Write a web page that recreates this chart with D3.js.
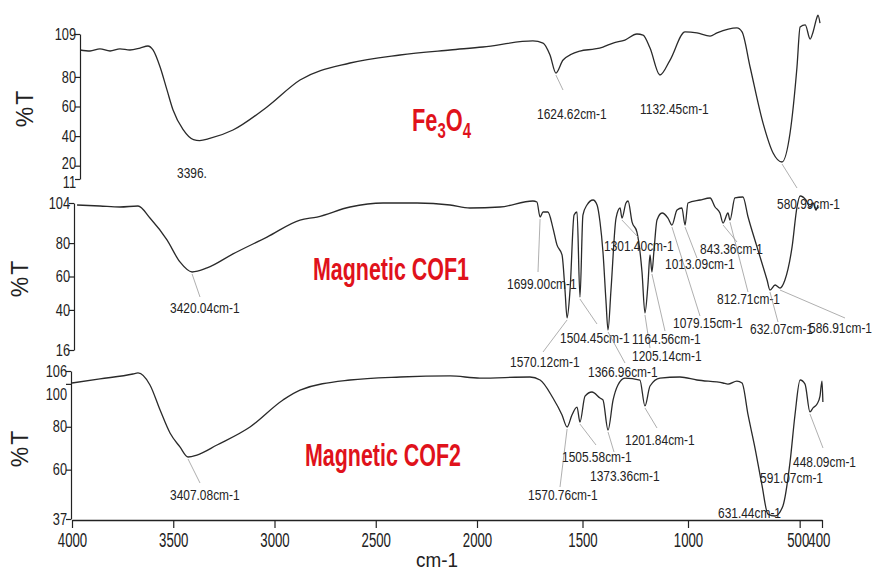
<!DOCTYPE html>
<html>
<head>
<meta charset="utf-8">
<script src="https://cdn.jsdelivr.net/npm/d3@7"></script>
<style>
  body { margin: 0; background: #fff; }
  text { font-family: "Liberation Sans", Arial, sans-serif; }
</style>
</head>
<body>
<svg id="chart" width="875" height="571"></svg>
<script>
// spectra: [wavenumber cm-1, %T]
var fe3o4 = [[3960,98.2],[3911,97.5],[3862,98.9],[3812,97.5],[3763,98.9],[3714,98.2],[3664,99.5],[3625,100.9],
  [3600,98.2],[3565,86.7],[3531,71.2],[3501,57.6],[3452,44.5],[3400,37.6],[3370,37.0],[3320,38.4],[3205,44.1],[3037,59.7],
  [2874,77.9],[2627,89.4],[2380,94.8],[2133,98.2],[1972,100.2],[1735,104.3],[1687,102.9],[1654,94.8],[1626,82.6],
  [1592,91.4],[1512,97.5],[1441,98.9],[1403,100.2],[1355,102.9],[1299,104.9],[1242,109],[1213,108.3],[1180,99.5],
  [1133,81.3],[1085,91.4],[1014,110.4],[960,109.7],[901,107.6],[870,109.7],[781,113.1],[758,110.4],[722,86.7],
  [664,48.8],[619,28.6],[579,22.5],[543,42.1],[512,86.7],[498,113.7],[475,115.1],[453,105.6],[440,110.4],
  [422,120.5],[418,121.8],[409,116.4]];

var cof1 = [[3975,102.8],[3862,102.2],[3763,101.6],[3674,102.2],[3615,95.0],[3531,81.9],[3467,68.7],[3407,62.7],
  [3333,65.1],[3205,73.5],[3037,83.6],[2874,93.8],[2790,95.6],[2627,101.6],[2464,104.0],[2296,104.0],[2133,102.8],
  [2035,101.0],[1891,101.6],[1735,105.2],[1716,104.6],[1701,95.6],[1687,98.6],[1664,98.6],[1640,89.0],[1621,78.9],
  [1597,72.9],[1583,51.9],[1573,35.2],[1559,51.9],[1540,96.8],[1526,98.6],[1512,47.7],[1498,96.8],[1479,102.8],
  [1450,105.8],[1431,102.8],[1417,92.6],[1403,74.7],[1389,45.9],[1379,28.0],[1365,51.9],[1341,95.0],[1322,101.0],
  [1313,95.0],[1294,104.0],[1284,105.2],[1265,92.6],[1242,86.6],[1218,62.7],[1204,38.2],[1190,54.9],[1180,72.9],
  [1171,62.7],[1161,75.9],[1147,93.8],[1123,98.0],[1095,95.0],[1076,90.8],[1052,99.8],[1029,101.0],[1014,90.8],
  [1000,104.0],[946,105.8],[901,107.0],[879,101.6],[857,98.0],[843,92.0],[821,98.0],[812,93.8],[790,107.0],
  [754,107.6],[731,95.6],[691,77.7],[646,57.9],[633,51.9],[610,54.9],[588,53.1],[566,57.9],[534,77.7],[512,101.6],
  [498,108.2],[472,105.8],[454,101.6],[440,104.0],[427,99.8],[418,102.8]];

var cof2 = [[4000,100.4],[3862,102.3],[3699,104.6],[3674,105.1],[3615,99.5],[3565,87.8],[3516,77.1],[3467,70.6],
  [3427,65.9],[3383,66.8],[3284,71.5],[3121,79.9],[2958,92.5],[2874,97.1],[2627,101.8],[2380,103.2],[2133,103.7],
  [1986,102.7],[1749,103.2],[1701,101.8],[1640,93.4],[1597,85.5],[1573,79.9],[1550,85.5],[1526,89.2],[1512,82.2],
  [1488,94.3],[1455,96.2],[1417,93.4],[1403,92.5],[1379,78.5],[1355,92.5],[1332,99.5],[1299,102.7],[1228,101.8],
  [1204,89.7],[1180,99.0],[1133,102.7],[1038,103.2],[960,101.8],[843,100.4],[821,99.9],[781,101.3],[758,100.4],
  [731,85.5],[700,70.1],[669,52.9],[642,39.3],[610,38.4],[575,43.1],[543,63.6],[521,85.5],[498,101.8],[476,99.9],
  [454,86.9],[440,88.8],[422,90.6],[409,94.3],[400,101.3],[396,91.5]];

var xTicks = [4000, 3500, 3000, 2500, 2000, 1500, 1000, 500, 400];
var fe3o4Ticks = [109, 80, 60, 40, 20, 11];
var cof1Ticks = [104, 80, 60, 40, 16];
var cof2Ticks = [106, 100, 80, 60, 37];

// peak labels: [text, wavenumber, %T of the marked point]
var fe3o4Peaks = [["3396.",3383,37.4],["1624.62cm-1",1626,82.6],["1132.45cm-1",1133,81.3],["580.99cm-1",579,22.5]];
var cof1Peaks = [["3420.04cm-1",3407,62.7],["1699.00cm-1",1701,95.6],["1570.12cm-1",1573,35.2],
  ["1504.45cm-1",1512,47.7],["1366.96cm-1",1379,28.0],["1301.40cm-1",1313,95.0],["1205.14cm-1",1204,38.2],
  ["1164.56cm-1",1171,62.7],["1079.15cm-1",1076,90.8],["1013.09cm-1",1014,90.8],["843.36cm-1",843,92.0],
  ["812.71cm-1",812,93.8],["632.07cm-1",633,51.9],["586.91cm-1",588,53.1]];
var cof2Peaks = [["3407.08cm-1",3427,65.9],["1570.76cm-1",1573,79.9],["1505.58cm-1",1512,82.2],
  ["1373.36cm-1",1379,78.5],["1201.84cm-1",1204,89.7],["631.44cm-1",642,39.3],["591.07cm-1",575,43.1],
  ["448.09cm-1",454,86.9]];

// label placement (pixels): [textLeft, baseline, leaderEndX, leaderEndY]
var fe3o4LabelPos = [[177,178],[537,119,563,90],[640,114],[777,209,797,188]];
var cof1LabelPos = [[170,313,200,297],[507,289,538,272],[510,367,543,352],[560,343,597,324],[588,377,625,363],
  [604,251,638,237],[632,361,650,348],[632,344,665,331],[673,328,700,316],[665,269,697,258],[700,254,737,242],
  [717,304,748,292],[750,334,778,322],[809,333,845,318]];
var cof2LabelPos = [[170,500,200,483],[528,500,560,487],[562,462,596,445],[590,481,614,452],[625,445,657,428],
  [718,518],[760,483],[793,467,823,448]];

var svg = d3.select('#chart');

var xScale = d3.scaleLinear()
    .domain([4000, 2000, 1000, 400])
    .range([72, 477, 688, 822]);

var panels = [
  {data: fe3o4, ticks: fe3o4Ticks, range: [34, 179], axisX: 80, peaks: fe3o4Peaks, pos: fe3o4LabelPos, labelX: 33, labelY: 108},
  {data: cof1, ticks: cof1Ticks, range: [203, 350], axisX: 74, peaks: cof1Peaks, pos: cof1LabelPos, labelX: 28, labelY: 278},
  {data: cof2, ticks: cof2Ticks, range: [371, 519], axisX: 71, peaks: cof2Peaks, pos: cof2LabelPos, labelX: 28, labelY: 448}
];

panels.forEach(function (p) {
    var t = p.ticks;
    var yScale = d3.scaleLinear()
        .domain([t[0], t[t.length - 1]])
        .range(p.range);

    var yAxis = d3.axisLeft(yScale)
        .tickValues(t)
        .tickSize(5)
        .tickSizeOuter(0)
        .tickPadding(0)
        .tickFormat(d3.format('d'));

    var g = svg.append('g')
        .attr('transform', 'translate(' + p.axisX + ',0)')
        .call(yAxis);
    g.select('.domain').attr('stroke', '#222').attr('stroke-width', 1.2);
    g.selectAll('.tick line').attr('stroke', '#222').attr('stroke-width', 1.2);
    g.selectAll('.tick text')
        .attr('font-size', 16)
        .attr('fill', '#222')
        .attr('transform', 'scale(0.8,1)')
        .attr('dy', function (d) {
            if (d === 100) return '0.95em';
            if (d === 11) return '0.5em';
            if (d === 20) return '0.2em';
            return '0.32em';
        });

    svg.append('text')
        .attr('transform', 'translate(' + p.labelX + ',' + p.labelY + ') rotate(-90)')
        .attr('text-anchor', 'middle')
        .attr('font-size', 23)
        .attr('letter-spacing', 2)
        .attr('fill', '#222')
        .text('%T');

    var line = d3.line()
        .x(function (d) { return xScale(d[0]); })
        .y(function (d) { return yScale(d[1]); })
        .curve(d3.curveMonotoneX);

    svg.append('path')
        .datum(p.data)
        .attr('d', line)
        .attr('fill', 'none')
        .attr('stroke', '#2a2a2a')
        .attr('stroke-width', 1.3);

    p.peaks.forEach(function (pk, i) {
        var pos = p.pos[i];
        if (pos.length > 2) {
            svg.append('line')
                .attr('x1', xScale(pk[1]))
                .attr('y1', yScale(pk[2]) + 2)
                .attr('x2', pos[2])
                .attr('y2', pos[3])
                .attr('stroke', '#9a9a9a')
                .attr('stroke-width', 0.8);
        }
        svg.append('text')
            .attr('transform', 'translate(' + pos[0] + ',' + pos[1] + ') scale(0.77,1)')
            .attr('font-size', 15.5)
            .attr('fill', '#222')
            .text(pk[0]);
    });
});

// bottom wavenumber axis
var xAxis = d3.axisBottom(xScale)
    .tickValues(xTicks)
    .tickSize(8)
    .tickSizeOuter(0)
    .tickPadding(4)
    .tickFormat(d3.format('d'));

var xg = svg.append('g')
    .attr('transform', 'translate(0,520)')
    .call(xAxis);
xg.select('.domain').attr('stroke', '#222').attr('stroke-width', 1.4);
xg.selectAll('.tick line').attr('stroke', '#222').attr('stroke-width', 1.2);
xg.selectAll('.tick text')
    .attr('font-size', 21)
    .attr('fill', '#222')
    .attr('transform', 'scale(0.63,1)')
    .attr('x', function (d) {
        if (d === 500) return -3;
        if (d === 400) return -5;
        return 0;
    });

svg.append('text')
    .attr('transform', 'translate(437,567) scale(0.9,1)')
    .attr('text-anchor', 'middle')
    .attr('font-size', 21)
    .attr('fill', '#222')
    .text('cm-1');

// sample names
var red = '#e0121b';
var fe = svg.append('text')
    .attr('transform', 'translate(412,131) scale(0.68,1)')
    .attr('font-size', 32)
    .attr('font-weight', 'bold')
    .attr('fill', red);
fe.append('tspan').text('Fe');
fe.append('tspan').attr('font-size', 22).attr('dy', 7).text('3');
fe.append('tspan').attr('dy', -7).text('O');
fe.append('tspan').attr('font-size', 22).attr('dy', 7).text('4');

svg.append('text')
    .attr('transform', 'translate(313,280) scale(0.67,1)')
    .attr('font-size', 32)
    .attr('font-weight', 'bold')
    .attr('fill', red)
    .text('Magnetic COF1');

svg.append('text')
    .attr('transform', 'translate(305,466) scale(0.67,1)')
    .attr('font-size', 32)
    .attr('font-weight', 'bold')
    .attr('fill', red)
    .text('Magnetic COF2');
</script>
</body>
</html>
